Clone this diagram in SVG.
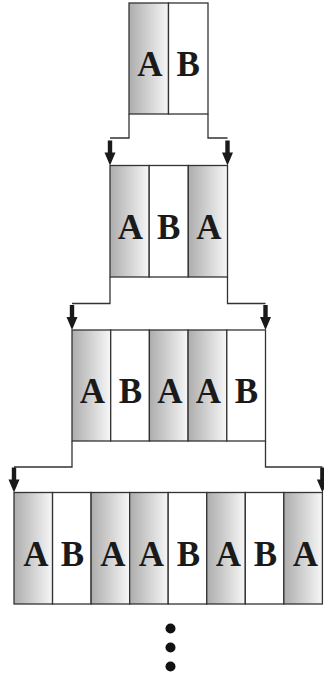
<svg xmlns="http://www.w3.org/2000/svg" xmlns:xlink="http://www.w3.org/1999/xlink" width="324" height="679" viewBox="0 0 324 679">
<style>
.cell{stroke:#333;stroke-width:1.3}
.a{fill:url(#g)}
.b{fill:#fff}
.t{font-family:"Liberation Serif","Times New Roman",serif;font-weight:bold;font-size:35px;fill:#1a1a1a;text-anchor:middle}
.ln{fill:none;stroke:#333;stroke-width:1.3}
.arr{fill:#1a1a1a}
</style>
<defs>
<linearGradient id="g" x1="0" y1="0" x2="1" y2="0">
<stop offset="0" stop-color="#adadad"/>
<stop offset="1" stop-color="#f7f7f7"/>
</linearGradient>
<path id="arrow" d="M-2.2,-25 L2.2,-25 L2.2,-13 L5.5,-13 L0,0 L-5.5,-13 L-2.2,-13 Z"/>
</defs>
<rect width="324" height="679" fill="#fff"/>
<g id="connectors">
<path class="ln" d="M129,114 V138 H110"/>
<path class="ln" d="M208,114 V138 H227.5"/>
<path class="ln" d="M110,277 V303.5 H72"/>
<path class="ln" d="M227.5,277 V303.5 H265.5"/>
<path class="ln" d="M72,441 V467 H14"/>
<path class="ln" d="M265.5,441 V467 H322.4"/>
<use class="arr" xlink:href="#arrow" x="110" y="165.5"/>
<use class="arr" xlink:href="#arrow" x="227.5" y="165.5"/>
<use class="arr" xlink:href="#arrow" x="72" y="330"/>
<use class="arr" xlink:href="#arrow" x="265.5" y="330"/>
<use class="arr" xlink:href="#arrow" x="14" y="492.5"/>
<use class="arr" xlink:href="#arrow" x="322.4" y="492.5"/>
</g>
<g id="row1">
<rect class="cell a" x="129" y="3" width="39.5" height="111"/>
<rect class="cell b" x="168.5" y="3" width="39.5" height="111"/>
<text class="t" x="150" y="75.5">A</text>
<text class="t" x="188.3" y="75.5">B</text>
</g>
<g id="row2">
<rect class="cell a" x="110" y="165.5" width="39.2" height="111.5"/>
<rect class="cell b" x="149.2" y="165.5" width="39.1" height="111.5"/>
<rect class="cell a" x="188.3" y="165.5" width="39.2" height="111.5"/>
<text class="t" x="130.5" y="239">A</text>
<text class="t" x="168.8" y="239">B</text>
<text class="t" x="208.8" y="239">A</text>
</g>
<g id="row3">
<rect class="cell a" x="72" y="330" width="38.7" height="111"/>
<rect class="cell b" x="110.7" y="330" width="38.7" height="111"/>
<rect class="cell a" x="149.4" y="330" width="38.7" height="111"/>
<rect class="cell a" x="188.1" y="330" width="38.7" height="111"/>
<rect class="cell b" x="226.8" y="330" width="38.7" height="111"/>
<text class="t" x="92.5" y="402.5">A</text>
<text class="t" x="130.5" y="402.5">B</text>
<text class="t" x="170" y="402.5">A</text>
<text class="t" x="208.5" y="402.5">A</text>
<text class="t" x="246.5" y="402.5">B</text>
</g>
<g id="row4">
<rect class="cell a" x="14" y="492.5" width="38.55" height="111.5"/>
<rect class="cell b" x="52.55" y="492.5" width="38.55" height="111.5"/>
<rect class="cell a" x="91.1" y="492.5" width="38.55" height="111.5"/>
<rect class="cell a" x="129.65" y="492.5" width="38.55" height="111.5"/>
<rect class="cell b" x="168.2" y="492.5" width="38.55" height="111.5"/>
<rect class="cell a" x="206.75" y="492.5" width="38.55" height="111.5"/>
<rect class="cell b" x="245.3" y="492.5" width="38.55" height="111.5"/>
<rect class="cell a" x="283.85" y="492.5" width="38.55" height="111.5"/>
<text class="t" x="36" y="566">A</text>
<text class="t" x="72.5" y="566">B</text>
<text class="t" x="113" y="566">A</text>
<text class="t" x="151.5" y="566">A</text>
<text class="t" x="188.5" y="566">B</text>
<text class="t" x="228.5" y="566">A</text>
<text class="t" x="265.5" y="566">B</text>
<text class="t" x="305.5" y="566">A</text>
</g>
<g id="dots" fill="#111">
<circle cx="170.5" cy="628.5" r="5"/>
<circle cx="170.5" cy="647.5" r="5"/>
<circle cx="170.5" cy="666.5" r="5"/>
</g>
</svg>
